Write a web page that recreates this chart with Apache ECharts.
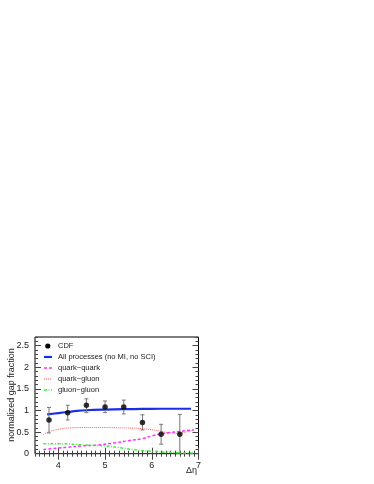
<!DOCTYPE html>
<html><head><meta charset="utf-8">
<script src="https://cdn.jsdelivr.net/npm/echarts@6/dist/echarts.min.js"></script>
<style>html,body{margin:0;padding:0;background:#fff}#c{width:374px;height:484px}</style></head>
<body><div id="c"></div>
<script>
// CDF data points
const cdfX  = [3.8, 4.2, 4.6, 5.0, 5.4, 5.8, 6.2, 6.6];
const cdfY  = [0.78, 0.95, 1.12, 1.08, 1.08, 0.72, 0.45, 0.45];
const cdfLo = [0.48, 0.78, 0.95, 0.95, 0.92, 0.55, 0.22, 0.00];
const cdfHi = [1.07, 1.12, 1.27, 1.22, 1.24, 0.90, 0.68, 0.91];
// All processes (no MI, no SCI)
const allX = [3.76, 4.0, 4.2, 4.4, 4.6, 5.0, 5.4, 5.8, 6.2, 6.6, 6.84];
const allY = [0.91, 0.94, 0.965, 0.99, 1.005, 1.02, 1.03, 1.035, 1.04, 1.04, 1.04];
// quark-quark
const qqX = [3.68, 4.0, 4.2, 4.5, 4.85, 5.2, 5.5, 5.8, 6.0, 6.2, 6.4, 6.63, 6.9];
const qqY = [0.10, 0.13, 0.15, 0.18, 0.20, 0.25, 0.30, 0.35, 0.41, 0.46, 0.49, 0.52, 0.55];
// quark-gluon
const qgX = [3.68, 3.78, 4.07, 4.3, 4.57, 5.0, 5.3, 5.6, 5.8, 6.06, 6.34, 6.55, 6.8, 6.9];
const qgY = [0.44, 0.50, 0.58, 0.60, 0.607, 0.607, 0.60, 0.59, 0.58, 0.545, 0.49, 0.47, 0.52, 0.55];
// gluon-gluon
const ggX = [3.68, 4.0, 4.57, 5.0, 5.31, 5.63, 6.06, 6.3, 6.63, 6.9];
const ggY = [0.23, 0.23, 0.20, 0.18, 0.14, 0.09, 0.05, 0.035, 0.02, 0.015];
// ticks
const xLabels = [4, 5, 6, 7];
const yLabels = [0, 0.5, 1, 1.5, 2, 2.5];
// legend names
const names = ['CDF', 'All processes (no MI, no SCI)', 'quark\u2212quark', 'quark\u2212gluon', 'gluon\u2212gluon'];

const pairs = (xs, ys) => xs.map((x, i) => [x, ys[i]]);
const FONT = '"Liberation Sans", Arial, Helvetica, sans-serif';
const isMul = (v, m) => Math.abs(v / m - Math.round(v / m)) < 1e-6;

const styles = {
  all: {color: '#1a2ee6', width: 2.2, type: 'solid'},
  qq:  {color: '#ff33ff', width: 1.5, type: [3, 2]},
  qg:  {color: '#ff5a5a', width: 1, type: [1, 1]},
  gg:  {color: '#44ee44', width: 1.5, type: [3, 1.5, 1, 1.5]}
};

const chart = echarts.init(document.getElementById('c'));
const tickColor = '#444';
function xAx(pos, major) {
  return {
    type: 'value', min: 3.5, max: 7, interval: major ? 0.5 : 0.1, position: pos,
    axisLine: {show: false}, splitLine: {show: false},
    axisTick: major ? {show: true, inside: true, length: 6, lineStyle: {color: tickColor}, customValues: xLabels}
                    : {show: true, inside: true, length: 3, interval: 0, lineStyle: {color: tickColor}},
    axisLabel: (pos === 'bottom' && !major) ? {show: true, interval: 0, fontSize: 9, fontFamily: FONT, color: '#222', margin: 7,
      formatter: v => isMul(v, 1) && v > 3.9 ? String(Math.round(v)) : ''} : {show: false}
  };
}
function yAx(pos, major) {
  return {
    type: 'value', min: 0, max: 2.7, interval: major ? 0.5 : 0.1, position: pos,
    axisLine: {show: false}, splitLine: {show: false},
    axisTick: major ? {show: true, inside: true, length: 6, lineStyle: {color: tickColor}, customValues: yLabels}
                    : {show: true, inside: true, length: 3, interval: 0, lineStyle: {color: tickColor}},
    axisLabel: (pos === 'left' && !major) ? {show: true, interval: 0, fontSize: 9, fontFamily: FONT, color: '#222', margin: 6,
      formatter: v => (isMul(v, 0.5) && v < 2.6) ? String(Math.round(v * 10) / 10) : ''} : {show: false}
  };
}

// Legend drawn as graphic (so the line styles show dashed patterns)
const legX = 44, legY = 346, legDy = 11;
const legendGraphic = [];
legendGraphic.push({type: 'circle', shape: {cx: legX + 3.8, cy: legY, r: 2.6}, style: {fill: '#000'}});
[styles.all, styles.qq, styles.qg, styles.gg].forEach((s, i) => {
  const y = legY + legDy * (i + 1);
  legendGraphic.push({type: 'line', shape: {x1: legX, y1: y, x2: legX + 8, y2: y},
    style: {stroke: s.color, lineWidth: s.width, lineDash: s.type === 'solid' ? null : s.type}});
});
names.forEach((n, i) => {
  legendGraphic.push({type: 'text', x: legX + 14, y: legY + legDy * i,
    style: {text: n, fontSize: 7.5, fontFamily: FONT, fill: '#222', verticalAlign: 'middle', align: 'left'}});
});

chart.setOption({
  animation: false,
  backgroundColor: '#fff',
  grid: {left: 35, right: 175.5, top: 337, bottom: 30.3, show: true, borderColor: '#000', borderWidth: 1, backgroundColor: 'transparent'},
  xAxis: [xAx('bottom', false), xAx('bottom', true), xAx('top', false), xAx('top', true)],
  yAxis: [yAx('left', false), yAx('left', true), yAx('right', false), yAx('right', true)],
  graphic: legendGraphic.concat([
    {type: 'text', x: 186, y: 466, style: {text: '\u0394\u03b7', fontSize: 9, fontFamily: FONT, fill: '#222'}},
    {type: 'text', x: 12, y: 395, rotation: Math.PI / 2,
      style: {text: 'normalized gap fraction', fontSize: 9, fontFamily: FONT, fill: '#222', align: 'center', verticalAlign: 'middle'}}
  ]),
  series: [
    {name: names[3], type: 'line', data: pairs(qgX, qgY), showSymbol: false, symbol: 'none', smooth: 0.4,
      lineStyle: styles.qg},
    {name: names[2], type: 'line', data: pairs(qqX, qqY), showSymbol: false, symbol: 'none', smooth: 0.4,
      lineStyle: styles.qq},
    {name: names[4], type: 'line', data: pairs(ggX, ggY), showSymbol: false, symbol: 'none', smooth: 0.4,
      lineStyle: styles.gg},
    {name: names[1], type: 'line', data: pairs(allX, allY), showSymbol: false, symbol: 'none', smooth: 0.4,
      lineStyle: styles.all},
    {name: 'CDFerr', type: 'custom', data: cdfX.map((x, i) => [x, cdfLo[i], cdfHi[i]]),
      renderItem: (params, api) => {
        const lo = api.coord([api.value(0), api.value(1)]);
        const hi = api.coord([api.value(0), api.value(2)]);
        const st = {stroke: '#777', lineWidth: 1};
        return {type: 'group', children: [
          {type: 'line', shape: {x1: lo[0], y1: lo[1], x2: hi[0], y2: hi[1]}, style: st},
          {type: 'line', shape: {x1: lo[0] - 2, y1: lo[1], x2: lo[0] + 2, y2: lo[1]}, style: st},
          {type: 'line', shape: {x1: hi[0] - 2, y1: hi[1], x2: hi[0] + 2, y2: hi[1]}, style: st}
        ]};
      }, z: 5},
    {name: names[0], type: 'scatter', data: pairs(cdfX, cdfY), symbol: 'circle', symbolSize: 5.5,
      itemStyle: {color: '#000'}, z: 6}
  ]
});
</script></body></html>
